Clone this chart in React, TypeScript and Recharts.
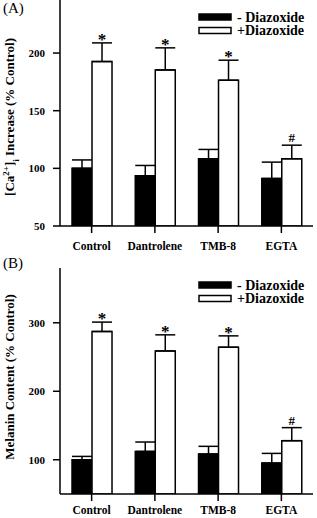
import React from "react";
import { BarChart, Bar, XAxis, YAxis, ErrorBar, Rectangle } from "recharts";

const GROUPS = ["Control", "Dantrolene", "TMB-8", "EGTA"];
const MARKS = ["*", "*", "*", "#"];

const CA_MINUS = [100, 93.5, 108.3, 91.2];
const CA_MINUS_ERR = [7.3, 9, 8.1, 14.2];
const CA_PLUS = [192.6, 185.4, 176.4, 108.3];
const CA_PLUS_ERR = [16.2, 19.1, 17.4, 11.8];
const CA_TICKS = [50, 100, 150, 200];

const MEL_MINUS = [100, 112.2, 108.3, 95.1];
const MEL_MINUS_ERR = [4.9, 13.7, 11.3, 14.2];
const MEL_PLUS = [287.3, 258.9, 264.3, 127.9];
const MEL_PLUS_ERR = [13.7, 23.5, 16.6, 19];
const MEL_TICKS = [100, 200, 300];

const FONT = "'Liberation Serif', 'Times New Roman', serif";

function rows(minus: number[], minusErr: number[], plus: number[], plusErr: number[]) {
  return GROUPS.map((g, i) => ({
    group: g,
    minus: minus[i],
    minusErr: [0, minusErr[i]],
    plus: plus[i],
    plusErr: [0, plusErr[i]],
    mark: MARKS[i],
  }));
}

const caData = rows(CA_MINUS, CA_MINUS_ERR, CA_PLUS, CA_PLUS_ERR);
const melData = rows(MEL_MINUS, MEL_MINUS_ERR, MEL_PLUS, MEL_PLUS_ERR);

function PlusBar(props: any) {
  const { x, y, width, height, payload, base } = props;
  const ppu = height / (payload.plus - base);
  const capY = y - payload.plusErr[1] * ppu;
  const isHash = payload.mark === "#";
  return (
    <g>
      <Rectangle x={x} y={y} width={width} height={height} fill="#fff" stroke="#000" strokeWidth={1.5} />
      <text
        x={x + width / 2}
        y={isHash ? capY - 3 : capY + 2}
        textAnchor="middle"
        fontFamily={FONT}
        fontWeight="bold"
        fontSize={isHash ? 13 : 17}
        fill="#000"
      >
        {payload.mark}
      </text>
    </g>
  );
}

function YLabel({ viewBox, children, shift }: any) {
  const cy = viewBox.y + viewBox.height / 2 + shift;
  return (
    <text
      x={14}
      y={cy}
      transform={`rotate(-90, 14, ${cy})`}
      textAnchor="middle"
      fontFamily={FONT}
      fontWeight="bold"
      fontSize={13}
      fill="#000"
    >
      {children}
    </text>
  );
}

function Panel({ data, domain, ticks, tag, label, top, height, marginTop, xHeight, xMargin, shift }: any) {
  return (
    <div style={{ position: "absolute", left: 0, top, width: 317, height }}>
      <BarChart
        width={317}
        height={height}
        data={data}
        margin={{ top: marginTop, right: 4, left: 0, bottom: 0 }}
        barCategoryGap="19%"
        barGap={0}
      >
        <XAxis
          dataKey="group"
          height={xHeight}
          tickSize={7}
          tickMargin={xMargin}
          stroke="#000"
          strokeWidth={1.5}
          tick={{ fill: "#000", fontFamily: FONT, fontWeight: "bold", fontSize: 11.5 }}
        />
        <YAxis
          width={60}
          domain={domain}
          ticks={ticks}
          allowDataOverflow
          tickSize={7}
          tickMargin={8}
          stroke="#000"
          strokeWidth={1.5}
          tick={{ fill: "#000", fontFamily: FONT, fontWeight: "bold", fontSize: 11 }}
          label={{ content: (p: any) => <YLabel viewBox={p.viewBox} shift={shift}>{label}</YLabel> }}
        />
        <Bar dataKey="minus" fill="#000" stroke="#000" strokeWidth={1.5} isAnimationActive={false}>
          <ErrorBar dataKey="minusErr" width={10} stroke="#000" strokeWidth={1.5} direction="y" />
        </Bar>
        <Bar
          dataKey="plus"
          fill="#fff"
          stroke="#000"
          strokeWidth={1.5}
          isAnimationActive={false}
          shape={(p: any) => <PlusBar {...p} base={domain[0]} />}
        >
          <ErrorBar dataKey="plusErr" width={10} stroke="#000" strokeWidth={1.5} direction="y" />
        </Bar>
      </BarChart>
      <svg width={317} height={60} style={{ position: "absolute", left: 0, top: 0 }}>
        <text x={3} y={13} fontFamily={FONT} fontSize={15} fill="#000">
          {tag}
        </text>
        <rect x={199} y={marginTop + 14} width={32} height={6} fill="#000" stroke="#000" strokeWidth={1.5} />
        <text x={237} y={marginTop + 21.5} fontFamily={FONT} fontWeight="bold" fontSize={14} fill="#000">
          - Diazoxide
        </text>
        <rect x={199} y={marginTop + 27.5} width={32} height={6} fill="#fff" stroke="#000" strokeWidth={1.5} />
        <text x={237} y={marginTop + 35} fontFamily={FONT} fontWeight="bold" fontSize={14} fill="#000">
          +Diazoxide
        </text>
      </svg>
    </div>
  );
}

export default function App() {
  return (
    <div style={{ position: "absolute", left: 0, top: 0, width: 317, height: 518, background: "#fff", overflow: "hidden" }}>
      <Panel
        data={caData}
        domain={[50, 246]}
        ticks={CA_TICKS}
        tag="(A)"
        label={
          <>
            [Ca
            <tspan baselineShift="super" fontSize={9}>2+</tspan>
            ]
            <tspan baselineShift="sub" fontSize={9}>i</tspan>
            {" Increase (% Control)"}
          </>
        }
        top={0}
        height={255}
        marginTop={0}
        xHeight={29}
        xMargin={9}
        shift={4}
      />
      <Panel
        data={melData}
        domain={[50, 380]}
        ticks={MEL_TICKS}
        tag="(B)"
        label="Melanin Content (% Control)"
        top={255}
        height={263}
        marginTop={13}
        xHeight={24}
        xMargin={5}
        shift={-4}
      />
    </div>
  );
}
